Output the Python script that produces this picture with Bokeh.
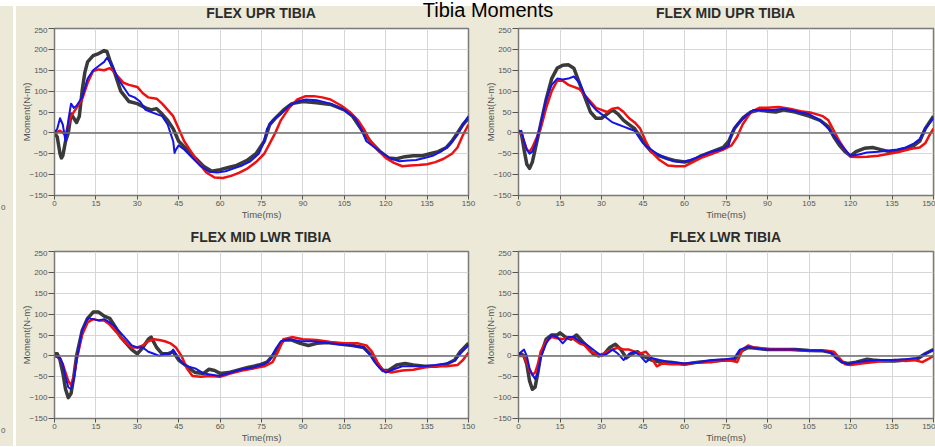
from bokeh.plotting import figure
from bokeh.layouts import row, column
from bokeh.models import Div, Spacer, Span, FixedTicker, Range1d
from bokeh.embed import file_html
from bokeh.resources import INLINE

BEIGE = "#ECE9D8"
GRAY = "#3a3a3a"
RED = "#ee1111"
BLUE = "#1414e6"

page_title = "Tibia Moments"
panel_titles = ["FLEX UPR TIBIA", "FLEX MID UPR TIBIA", "FLEX MID LWR TIBIA", "FLEX LWR TIBIA"]
x_ticks = [0, 15, 30, 45, 60, 75, 90, 105, 120, 135, 150]
y_ticks = [-150, -100, -50, 0, 50, 100, 150, 200, 250]
strip_labels = ["0", "0"]

# ---- FLEX UPR TIBIA : (time ms, moment N-m)
upr_gray = [(0,0),(1,-10),(2,-50),(2.5,-60),(3,-55),(4,-20),(5,0),(6,45),(7,35),(8,25),(9,40),(10,100),(11,145),(12,170),(14,185),(16,190),(18,197),(19,195),(20,175),(22,140),(24,100),(27,75),(30,70),(33,60),(35,55),(37,58),(39,45),(41,30),(43,10),(45,-20),(48,-40),(51,-60),(54,-80),(57,-92),(60,-88),(63,-83),(66,-78),(70,-65),(73,-50),(76,-20),(78,20),(80,35),(83,55),(86,70),(90,75),(95,72),(100,68),(105,55),(108,40),(110,20),(112,0),(115,-25),(118,-45),(121,-60),(124,-62),(127,-57),(130,-55),(133,-55),(136,-50),(139,-45),(142,-35),(144,-20),(146,0),(148,20),(150,35)]
upr_red = [(0,0),(2,5),(3,0),(4,-5),(5,20),(6,40),(8,60),(10,80),(12,120),(14,148),(16,152),(18,150),(20,155),(21,150),(23,135),(25,120),(27,115),(30,110),(32,95),(34,85),(37,82),(39,70),(41,55),(43,40),(45,10),(47,-20),(49,-40),(52,-70),(55,-95),(58,-107),(61,-108),(64,-103),(67,-95),(70,-85),(73,-70),(76,-50),(78,-25),(80,0),(82,30),(85,60),(88,80),(91,88),(94,88),(97,85),(100,80),(104,65),(107,50),(110,30),(112,10),(114,-15),(117,-40),(120,-60),(123,-72),(126,-80),(129,-78),(132,-77),(135,-75),(138,-70),(141,-62),(144,-50),(146,-35),(148,-5),(150,20)]
upr_blue = [(0,0),(1,10),(2,35),(3,20),(4,-20),(5,30),(6,70),(7,60),(8,65),(10,85),(12,130),(14,150),(16,160),(18,170),(19,180),(21,160),(23,130),(25,110),(27,90),(29,85),(31,75),(33,55),(35,50),(37,45),(39,40),(41,20),(42,0),(43,-20),(43.5,-48),(44,-40),(45,-30),(47,-40),(50,-60),(53,-80),(56,-93),(59,-95),(62,-92),(65,-85),(68,-78),(71,-68),(74,-50),(76,-20),(77,10),(79,30),(82,45),(85,65),(88,75),(91,80),(95,78),(100,70),(105,55),(109,35),(111,10),(113,-20),(116,-35),(119,-50),(122,-62),(125,-68),(128,-66),(131,-65),(134,-60),(137,-55),(140,-45),(143,-30),(146,-5),(148,20),(150,40)]

# ---- FLEX MID UPR TIBIA
midupr_gray = [(0,5),(1,0),(2,-40),(3,-75),(4,-85),(5,-70),(6,-40),(7,-10),(8,20),(10,80),(12,130),(14,155),(16,162),(18,163),(20,155),(22,120),(24,85),(26,50),(28,35),(30,35),(32,45),(34,55),(36,45),(38,30),(40,20),(42,10),(44,-10),(46,-30),(48,-45),(51,-55),(54,-62),(57,-67),(60,-70),(63,-67),(66,-55),(70,-45),(74,-35),(76,-20),(78,10),(81,35),(84,50),(87,55),(90,52),(93,50),(96,55),(100,50),(105,40),(109,30),(112,15),(114,-10),(116,-30),(118,-45),(120,-55),(122,-45),(125,-37),(128,-35),(131,-40),(134,-45),(137,-42),(140,-37),(143,-30),(145,-20),(147,10),(150,40)]
midupr_red = [(0,0),(1,0),(2,-20),(3,-40),(4,-45),(5,-35),(6,-20),(8,10),(10,60),(12,100),(14,125),(16,125),(18,115),(20,110),(22,105),(24,90),(26,75),(28,60),(30,55),(32,50),(34,58),(36,60),(38,50),(40,35),(42,25),(44,10),(46,-20),(48,-45),(51,-65),(54,-78),(57,-80),(60,-80),(63,-70),(66,-60),(70,-50),(74,-40),(77,-30),(79,-10),(81,20),(84,50),(87,60),(90,60),(94,62),(98,58),(102,52),(106,48),(110,40),(112,30),(114,5),(116,-20),(118,-40),(120,-57),(123,-58),(126,-57),(130,-55),(134,-50),(138,-45),(142,-38),(145,-35),(147,-25),(149,0),(150,10)]
midupr_blue = [(0,0),(1,5),(2,-20),(3,-40),(4,-50),(5,-45),(6,-30),(8,20),(10,80),(12,115),(14,130),(16,128),(18,130),(20,135),(22,120),(24,90),(26,70),(28,55),(30,45),(32,35),(34,25),(36,20),(38,15),(40,10),(42,5),(44,-15),(45,-25),(47,-35),(50,-50),(53,-60),(56,-68),(59,-70),(62,-65),(66,-55),(70,-45),(74,-38),(76,-30),(77,0),(79,20),(82,40),(85,55),(88,55),(92,55),(96,58),(100,52),(105,45),(109,30),(112,10),(115,-15),(118,-40),(120,-55),(123,-52),(126,-47),(130,-45),(134,-42),(137,-40),(140,-35),(143,-25),(145,-15),(147,10),(150,35)]

# ---- FLEX MID LWR TIBIA
midlwr_gray = [(0,5),(1,5),(2,-10),(3,-40),(4,-80),(5,-100),(6,-90),(7,-50),(8,0),(10,60),(12,90),(14,105),(16,105),(18,95),(20,90),(22,70),(24,45),(26,30),(28,15),(30,5),(32,20),(34,40),(35,45),(37,20),(39,5),(41,5),(43,10),(45,-10),(48,-25),(51,-40),(54,-42),(56,-32),(58,-35),(60,-42),(63,-40),(66,-35),(70,-28),(74,-22),(77,-15),(79,0),(81,20),(83,38),(86,38),(89,30),(92,25),(95,30),(99,32),(104,28),(108,25),(112,20),(115,0),(117,-20),(119,-35),(121,-35),(124,-22),(127,-18),(130,-22),(134,-25),(138,-25),(142,-20),(145,-10),(147,10),(150,30)]
midlwr_red = [(0,0),(2,-5),(3,-20),(4,-40),(5,-60),(6,-70),(7,-50),(8,-10),(10,50),(12,80),(14,88),(16,85),(18,85),(20,75),(22,60),(24,45),(26,30),(28,20),(30,20),(32,25),(34,35),(36,40),(38,38),(40,35),(42,30),(44,20),(46,0),(48,-30),(50,-48),(53,-50),(56,-48),(60,-50),(64,-42),(68,-35),(72,-30),(76,-25),(79,-15),(81,10),(83,40),(86,45),(90,40),(95,38),(100,33),(105,30),(110,30),(113,25),(115,10),(117,-15),(119,-35),(122,-40),(126,-35),(130,-33),(134,-28),(138,-25),(142,-25),(146,-22),(148,-10),(150,8)]
midlwr_blue = [(0,0),(2,-5),(3,-20),(4,-50),(5,-75),(6,-80),(7,-55),(8,-10),(10,60),(12,90),(14,88),(16,85),(18,88),(20,80),(22,70),(24,55),(26,40),(28,25),(30,20),(32,20),(34,10),(36,5),(38,0),(40,5),(42,5),(43,15),(44,5),(46,-15),(48,-25),(51,-30),(54,-42),(57,-45),(60,-48),(64,-40),(68,-32),(72,-28),(76,-20),(78,-10),(80,15),(82,35),(85,40),(89,35),(93,35),(98,32),(103,28),(108,25),(112,20),(114,5),(116,-15),(118,-30),(120,-40),(123,-32),(126,-25),(130,-25),(134,-25),(138,-22),(142,-18),(145,-12),(147,5),(150,25)]

# ---- FLEX LWR TIBIA
lwr_gray = [(0,5),(1,5),(2,0),(3,-20),(4,-60),(5,-80),(6,-75),(7,-40),(8,0),(10,40),(12,50),(14,50),(15,55),(17,45),(19,40),(21,50),(23,35),(25,20),(27,5),(29,0),(31,5),(33,20),(35,28),(37,15),(39,-5),(41,5),(43,10),(45,0),(48,-10),(51,-15),(55,-15),(60,-20),(65,-15),(70,-12),(75,-10),(78,-10),(80,10),(83,20),(86,18),(90,15),(95,15),(100,15),(105,13),(110,12),(113,8),(115,-5),(117,-15),(119,-18),(122,-15),(126,-8),(128,-10),(132,-12),(136,-12),(140,-10),(144,-8),(147,5),(150,15)]
lwr_red = [(0,0),(2,0),(3,-15),(4,-35),(5,-45),(6,-40),(7,-20),(8,10),(10,35),(12,45),(14,42),(16,40),(18,45),(20,40),(22,30),(24,25),(26,10),(28,5),(30,0),(32,10),(34,15),(36,20),(38,15),(40,15),(42,10),(44,5),(46,10),(48,-5),(50,-25),(52,-18),(55,-20),(60,-20),(65,-15),(70,-15),(75,-10),(77,-12),(79,-15),(81,15),(83,25),(85,20),(88,18),(92,15),(97,15),(102,13),(107,12),(112,12),(114,10),(116,-5),(118,-20),(120,-22),(124,-18),(128,-15),(132,-12),(136,-10),(140,-12),(143,-10),(146,-15),(148,-8),(150,0)]
lwr_blue = [(0,0),(1,10),(2,15),(3,0),(4,-30),(5,-45),(6,-55),(7,-40),(8,-5),(10,30),(12,50),(14,45),(16,30),(18,45),(20,45),(22,35),(24,30),(26,20),(28,10),(30,0),(32,5),(34,15),(36,5),(38,-10),(40,5),(42,10),(44,0),(46,-15),(48,-5),(51,-10),(55,-15),(60,-18),(65,-15),(70,-10),(75,-8),(78,-5),(80,15),(83,22),(86,18),(90,15),(95,15),(100,15),(105,13),(110,12),(113,8),(115,-5),(117,-15),(119,-20),(122,-15),(126,-12),(130,-10),(135,-10),(140,-8),(144,-5),(147,5),(150,15)]

panel_series = [
    (upr_gray, upr_red, upr_blue),
    (midupr_gray, midupr_red, midupr_blue),
    (midlwr_gray, midlwr_red, midlwr_blue),
    (lwr_gray, lwr_red, lwr_blue),
]

FONT = "Liberation Sans"

# geometry (pixels)
STRIP_W, GAP_W = 13, 3
LEFT_W, RIGHT_W = 462, 457
LEFT_BL, LEFT_BR = 38, 10
RIGHT_BL, RIGHT_BR = 40, 2
HEAD_H = 27
FRAME_H = 167
BORDER_B = 28
FIG_H = 1 + FRAME_H + BORDER_B


def make_panel(series, width, bl, br):
    p = figure(width=width, height=FIG_H,
               x_range=Range1d(0, 150), y_range=Range1d(-150, 250),
               output_backend="svg", toolbar_location=None,
               min_border_left=bl, min_border_right=br,
               min_border_top=1, min_border_bottom=BORDER_B)
    p.background_fill_color = "white"
    p.border_fill_color = BEIGE
    p.outline_line_color = "#7a7a7a"
    p.outline_line_width = 1.5
    p.xaxis.ticker = FixedTicker(ticks=x_ticks)
    p.yaxis.ticker = FixedTicker(ticks=y_ticks)
    p.xaxis.axis_label = "Time(ms)"
    p.yaxis.axis_label = "Moment(N-m)"
    for ax in p.axis:
        ax.axis_line_color = "#7a7a7a"
        ax.major_tick_line_color = "#555555"
        ax.major_tick_out = 4
        ax.major_tick_in = 0
        ax.minor_tick_line_color = None
        ax.major_label_text_font = FONT
        ax.major_label_text_font_size = "8px"
        ax.major_label_text_color = "#555555"
        ax.major_label_standoff = 1
        ax.axis_label_text_font = FONT
        ax.axis_label_text_font_size = "9.5px"
        ax.axis_label_text_font_style = "normal"
        ax.axis_label_text_color = "#555555"
        ax.axis_label_standoff = 0
    p.yaxis.major_tick_out = 6
    p.yaxis.axis_label_standoff = -6
    p.grid.grid_line_color = "#d6d6d6"
    p.grid.grid_line_width = 1
    p.add_layout(Span(location=0, dimension="width", line_color="#6e6e6e", line_width=1.5))
    colors = [GRAY, RED, BLUE]
    widths = [3.5, 2.5, 2.0]
    for s, c, w in zip(series, colors, widths):
        xs = [a for a, b in s]
        ys = [b for a, b in s]
        p.line(xs, ys, line_color=c, line_width=w, line_join="round")
    return p


TITLE_CSS = ("font-family:'Liberation Sans';font-size:14px;font-weight:bold;"
             "line-height:15px;color:#2c2c2c;white-space:nowrap;text-align:center;")


def title_html(text, left, width, top):
    return ('<div style="position:absolute;left:%dpx;top:%dpx;width:%dpx;%s">%s</div>'
            % (left, top, width, TITLE_CSS, text))


x0 = STRIP_W + GAP_W
tl_frame_left = x0 + LEFT_BL
tl_frame_w = LEFT_W - LEFT_BL - LEFT_BR
tr_frame_left = x0 + LEFT_W + RIGHT_BL
tr_frame_w = RIGHT_W - RIGHT_BL - RIGHT_BR
total_w = x0 + LEFT_W + RIGHT_W

top_header = Div(
    text=('<div style="position:relative;width:%dpx;height:%dpx;overflow:hidden;background:#ffffff;">' % (total_w, HEAD_H)
          + '<div style="position:absolute;left:0;top:6px;width:%dpx;height:%dpx;background:%s;"></div>' % (STRIP_W, HEAD_H - 6, BEIGE)
          + '<div style="position:absolute;left:%dpx;top:6px;width:%dpx;height:%dpx;background:%s;"></div>' % (x0, LEFT_W + RIGHT_W, HEAD_H - 6, BEIGE)
          + title_html(panel_titles[0], tl_frame_left, tl_frame_w, 6)
          + title_html(panel_titles[1], tr_frame_left, tr_frame_w, 6)
          + ('<div style="position:absolute;left:388px;top:0px;width:200px;text-align:center;'
             "font-family:'Liberation Sans';font-size:20px;line-height:20px;color:#000;white-space:nowrap;\">"
             + page_title + '</div>')
          + '</div>'),
    width=total_w, height=HEAD_H, margin=0)

mid_header = Div(
    text=('<div style="position:relative;width:%dpx;height:%dpx;overflow:hidden;background:%s;">' % (LEFT_W + RIGHT_W, HEAD_H, BEIGE)
          + title_html(panel_titles[2], LEFT_BL, tl_frame_w, 7)
          + title_html(panel_titles[3], LEFT_W + RIGHT_BL, tr_frame_w, 7)
          + '</div>'),
    width=LEFT_W + RIGHT_W, height=HEAD_H, margin=0)

tl = make_panel(panel_series[0], LEFT_W, LEFT_BL, LEFT_BR)
tr = make_panel(panel_series[1], RIGHT_W, RIGHT_BL, RIGHT_BR)
bl = make_panel(panel_series[2], LEFT_W, LEFT_BL, LEFT_BR)
br = make_panel(panel_series[3], RIGHT_W, RIGHT_BL, RIGHT_BR)

body_h = 2 * FIG_H + HEAD_H
STRIP_LABEL_CSS = ("position:absolute;left:1px;width:10px;font-family:'Liberation Sans';"
                   "font-size:8px;line-height:9px;color:#555555;")
strip_tops = [FIG_H - BORDER_B + 8, 2 * FIG_H + HEAD_H - BORDER_B + 8]
strip = Div(
    text=('<div style="position:relative;width:%dpx;height:%dpx;overflow:hidden;background:%s;">' % (STRIP_W, body_h, BEIGE)
          + ''.join('<div style="%stop:%dpx;">%s</div>' % (STRIP_LABEL_CSS, t, s)
                    for t, s in zip(strip_tops, strip_labels))
          + '</div>'),
    width=STRIP_W, height=body_h, margin=0)
gap = Spacer(width=GAP_W, height=body_h)

panels = column(row(tl, tr), mid_header, row(bl, br),
                styles={"background-color": BEIGE})
layout = column(top_header, row(strip, gap, panels))

with open("out.html", "w") as f:
    f.write(file_html(layout, INLINE, page_title))
